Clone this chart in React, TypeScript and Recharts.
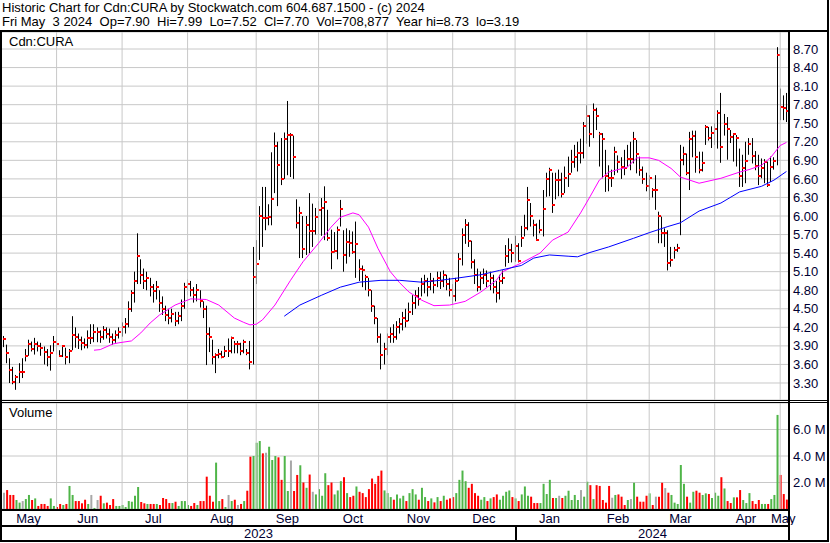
import { ComposedChart, BarChart, Bar, Line, XAxis, YAxis, CartesianGrid, ReferenceLine, Cell } from 'recharts';

const FONT = 'Arial, "Liberation Sans", sans-serif';
const AXIS_TEXT = '#000033';
const GRID = '#c8c8c8';

const TITLE = 'Historic Chart for Cdn:CURA by Stockwatch.com 604.687.1500 - (c) 2024';
const SUBTITLE = 'Fri May  3 2024  Op=7.90  Hi=7.99  Lo=7.52  Cl=7.70  Vol=708,877  Year hi=8.73  lo=3.19';

// trading days per month, May 2023 .. May 2024
const MONTHS = ['May', 'Jun', 'Jul', 'Aug', 'Sep', 'Oct', 'Nov', 'Dec', 'Jan', 'Feb', 'Mar', 'Apr', 'May'];
const MONTH_BARS = [17, 21, 21, 22, 20, 22, 21, 20, 23, 20, 21, 21, 3];
const YEARS = ['2023', '2024'];

const PRICE_TICKS = [3.3, 3.6, 3.9, 4.2, 4.5, 4.8, 5.1, 5.4, 5.7, 6.0, 6.3, 6.6, 6.9, 7.2, 7.5, 7.8, 8.1, 8.4, 8.7];
const VOLUME_TICKS = [2e6, 4e6, 6e6];

const CLOSE = [
  4.01, 3.79, 3.51, 3.31, 3.39, 3.47, 3.47, 3.74, 3.93, 3.85, 3.93, 3.9, 3.86, 3.8, 3.72, 3.78, 3.96,
  3.93, 3.74, 3.9, 3.72, 3.81, 4.07, 4.04, 3.99, 3.95, 3.92, 4.02, 4.02, 4.12, 4.12, 4.05, 4.15, 4.1, 4.05, 4.0, 4.08, 4.12,
  4.2, 4.25, 4.5, 4.75, 4.95, 5.35, 5.05, 4.95, 5.0, 4.85, 4.78, 4.85, 4.6, 4.5, 4.4, 4.35, 4.42, 4.3, 4.38, 4.55, 4.85,
  4.9, 4.8, 4.72, 4.8, 4.62, 4.5, 4.09, 4.04, 3.72, 3.75, 3.77, 3.72, 3.82, 3.82, 4.02, 3.93, 3.93, 3.82, 3.97, 3.79, 3.64, 5.02,
  5.23, 6.0, 5.96, 5.96, 5.99, 6.27, 7.13, 6.83, 6.6, 7.24, 7.31, 7.31, 6.96, 5.89, 6.05, 5.47, 5.86, 5.76, 5.76, 5.99,
  6.1, 6.13, 6.23, 5.65, 5.41, 5.44, 5.78, 6.12, 5.37, 5.58, 5.56, 5.41, 5.55, 5.15, 5.12, 5.02, 4.8, 4.55, 4.35, 4.05, 3.75, 3.85,
  4.05, 4.1, 4.05, 4.2, 4.25, 4.35, 4.3, 4.45, 4.6, 4.7, 4.65, 4.9, 4.95, 4.85, 4.95, 4.88, 5.0, 4.95, 5.05, 4.9, 4.8,
  4.7, 4.95, 5.3, 5.7, 5.85, 5.6, 5.25, 5.05, 4.85, 5.0, 5.05, 4.95, 5.0, 4.85, 4.75, 4.95, 5.0, 5.36, 5.45, 5.4,
  5.52, 5.28, 5.65, 5.81, 6.26, 6.0, 5.86, 5.62, 5.78, 6.12, 6.6, 6.75, 6.18, 6.58, 6.58, 6.35, 6.61, 6.68, 6.88, 6.96, 7.02, 7.02, 7.45,
  7.62, 7.32, 7.71, 7.62, 7.32, 7.24, 6.65, 6.62, 6.62, 7.03, 6.88, 6.8, 6.77, 6.92, 6.92, 7.24, 7.01, 6.74, 6.6, 6.49,
  6.62, 6.42, 6.42, 6.0, 5.73, 5.73, 5.24, 5.29, 5.45, 5.49, 6.9, 7.01, 6.69, 7.24, 7.29, 6.95, 6.74, 6.86, 7.44, 7.26, 7.35,
  7.4, 7.66, 7.12, 7.48, 7.4, 7.28, 7.33, 7.26, 6.65, 6.77, 6.89, 7.17, 6.97, 6.81, 6.64, 6.77, 6.88, 6.5, 6.8, 6.89, 8.6,
  7.76, 7.74, 7.7,
];

const HIGH = [
  4.06, 3.92, 3.7, 3.56, 3.43, 3.62, 3.7, 3.85, 4.0, 3.97, 4.03, 3.97, 3.95, 3.89, 3.85, 3.91, 4.06,
  4.0, 3.83, 3.91, 3.87, 3.85, 4.38, 4.2, 4.1, 4.05, 4.02, 4.15, 4.25, 4.25, 4.2, 4.15, 4.22, 4.2, 4.18, 4.1, 4.15, 4.2,
  4.28, 4.35, 4.62, 4.8, 5.1, 5.72, 5.3, 5.15, 5.1, 5.0, 4.9, 4.95, 4.8, 4.7, 4.55, 4.5, 4.5, 4.45, 4.45, 4.65, 4.92,
  4.98, 4.95, 4.85, 4.9, 4.8, 4.62, 4.55, 4.2, 4.0, 3.78, 3.85, 3.82, 3.9, 4.02, 4.05, 3.98, 3.98, 3.95, 4.0, 3.85, 3.98, 5.5,
  5.61, 6.16, 6.47, 6.47, 6.19, 7.03, 7.35, 7.2, 7.26, 7.35, 7.86, 7.34, 7.3, 6.27, 6.15, 6.0, 6.0, 6.37, 6.2, 6.13,
  6.24, 6.29, 6.48, 6.1, 5.78, 5.74, 5.83, 6.26, 5.77, 5.8, 5.77, 5.75, 5.91, 5.3, 5.2, 5.05, 5.0, 4.8, 4.55, 4.35, 4.1, 3.95,
  4.1, 4.2, 4.25, 4.3, 4.35, 4.45, 4.5, 4.6, 4.72, 4.8, 4.85, 5.0, 5.05, 5.0, 5.08, 5.0, 5.1, 5.1, 5.12, 5.05, 5.0,
  4.9, 5.0, 5.4, 5.8, 5.95, 5.9, 5.6, 5.3, 5.15, 5.1, 5.15, 5.12, 5.1, 5.05, 4.95, 5.05, 5.12, 5.53, 5.64, 5.55,
  5.68, 5.56, 5.84, 6.02, 6.47, 6.21, 5.94, 5.88, 5.94, 6.42, 6.7, 6.78, 6.7, 6.7, 6.75, 6.7, 6.8, 6.96, 7.07, 7.15, 7.2, 7.25, 7.52,
  7.79, 7.63, 7.82, 7.75, 7.36, 7.34, 7.07, 6.82, 6.75, 7.12, 6.98, 6.95, 7.07, 7.15, 7.2, 7.36, 7.23, 6.96, 6.8, 6.7,
  6.66, 6.45, 6.66, 6.07, 5.99, 5.8, 5.77, 5.5, 5.5, 5.55, 7.15, 7.12, 7.01, 7.36, 7.38, 7.38, 7.04, 7.04, 7.47, 7.44, 7.45,
  7.5, 7.71, 7.99, 7.65, 7.6, 7.39, 7.34, 7.31, 7.09, 6.99, 7.2, 7.26, 7.26, 7.05, 6.99, 6.93, 6.92, 6.88, 6.96, 6.95, 8.73,
  8.06, 7.95, 7.99,
];

const LOW = [
  3.88, 3.62, 3.3, 3.28, 3.19, 3.3, 3.38, 3.65, 3.74, 3.81, 3.76, 3.81, 3.74, 3.6, 3.57, 3.5, 3.81,
  3.76, 3.72, 3.72, 3.6, 3.62, 3.83, 3.87, 3.85, 3.83, 3.86, 3.86, 3.93, 3.96, 3.96, 3.95, 4.0, 4.02, 3.95, 3.92, 3.95, 4.02,
  4.05, 4.1, 4.2, 4.45, 4.6, 4.9, 4.9, 4.82, 4.8, 4.7, 4.6, 4.65, 4.45, 4.4, 4.3, 4.25, 4.28, 4.22, 4.25, 4.3, 4.5,
  4.72, 4.7, 4.6, 4.62, 4.52, 4.35, 3.59, 3.8, 3.6, 3.46, 3.7, 3.7, 3.72, 3.72, 3.78, 3.78, 3.78, 3.75, 3.78, 3.75, 3.52, 3.6,
  4.9, 5.29, 5.5, 5.77, 5.85, 5.85, 6.37, 6.16, 6.5, 6.6, 6.66, 6.63, 6.6, 5.8, 5.32, 5.32, 5.37, 5.4, 5.5, 5.7,
  5.7, 5.68, 5.61, 5.6, 5.14, 5.41, 5.3, 5.83, 5.1, 5.23, 5.34, 5.39, 5.0, 4.95, 4.85, 4.8, 4.7, 4.45, 4.25, 3.95, 3.52, 3.6,
  3.75, 3.95, 3.95, 4.0, 4.1, 4.15, 4.2, 4.3, 4.4, 4.5, 4.55, 4.7, 4.75, 4.7, 4.8, 4.75, 4.85, 4.82, 4.85, 4.8, 4.7,
  4.58, 4.62, 4.95, 5.2, 5.55, 5.5, 5.15, 4.9, 4.78, 4.8, 4.9, 4.85, 4.8, 4.75, 4.6, 4.65, 4.9, 5.18, 5.24, 5.25,
  5.26, 5.25, 5.5, 5.67, 5.77, 5.83, 5.67, 5.6, 5.72, 5.67, 6.31, 6.32, 6.05, 6.27, 6.32, 6.3, 6.37, 6.47, 6.7, 6.78, 6.72, 6.85, 6.93,
  7.17, 7.12, 7.26, 7.39, 6.8, 6.61, 6.39, 6.4, 6.47, 6.66, 6.7, 6.6, 6.66, 6.8, 6.74, 6.85, 6.69, 6.65, 6.52, 6.4,
  6.26, 6.3, 6.1, 5.56, 5.56, 5.5, 5.12, 5.18, 5.31, 5.42, 5.69, 6.82, 6.66, 6.42, 6.95, 6.7, 6.69, 6.72, 7.15, 7.22, 7.1,
  7.15, 7.09, 6.86, 7.3, 6.91, 7.18, 6.88, 6.8, 6.47, 6.47, 6.53, 6.99, 6.85, 6.74, 6.5, 6.61, 6.53, 6.47, 6.55, 6.75, 6.82,
  7.55, 7.55, 7.52,
];

// daily volume, millions of shares
const VOLUME_M = [
  1.23, 1.43, 1.06, 1.06, 0.68, 0.48, 0.6, 0.75, 1.06, 0.68, 0.8, 0.23, 0.38, 0.38, 0.23, 0.8, 0.23,
  0.15, 0.38, 0.3, 0.38, 1.74, 1.06, 0.6, 0.6, 0.43, 0.7, 0.38, 1.06, 0.08, 0.68, 1.0, 0.43, 0.48, 0.3, 0.75, 0.23, 0.23,
  0.3, 0.15, 0.6, 0.55, 1.0, 1.66, 0.53, 0.43, 0.38, 0.38, 0.38, 0.38, 0.3, 0.83, 0.75, 0.45, 0.45, 0.55, 0.23, 0.6, 0.6,
  0.3, 0.23, 0.45, 0.3, 0.6, 0.6, 2.44, 1.0, 0.55, 3.5, 0.6, 0.75, 0.15, 1.06, 0.6, 0.7, 0.3, 0.38, 0.6, 1.38, 3.95, 4.0,
  5.0, 5.13, 4.2, 4.24, 4.7, 3.7, 4.0, 3.9, 2.2, 4.0, 1.36, 3.66, 1.36, 2.57, 3.3, 2.0, 1.6, 2.6, 1.3, 1.1,
  1.5, 1.0, 2.7, 1.8, 2.0, 1.1, 1.4, 2.1, 2.4, 1.2, 0.9, 1.0, 1.7, 1.3, 1.2, 0.9, 1.5, 2.3, 1.9, 2.5, 2.9, 1.4,
  1.2, 0.9, 0.7, 1.1, 0.8, 1.0, 0.6, 1.2, 1.5, 1.1, 0.7, 1.6, 0.9, 0.6, 0.8, 0.5, 0.9, 0.6, 1.0, 0.7, 0.8,
  0.9, 1.2, 2.2, 2.9, 2.1, 1.6, 1.9, 1.2, 1.0, 0.7, 0.9, 0.6, 0.8, 0.9, 1.1, 0.7, 1.0, 1.3, 1.4, 0.9,
  0.8, 0.6, 1.1, 1.7, 1.0, 0.93, 0.45, 0.45, 0.45, 1.9, 1.13, 2.2, 0.83, 0.83, 1.0, 0.83, 1.0, 1.38, 0.68, 1.06, 0.68, 1.43, 0.93,
  2.06, 1.8, 0.75, 1.8, 1.74, 0.68, 0.48, 1.74, 0.85, 1.06, 1.1, 0.93, 0.3, 0.68, 0.75, 1.98, 0.93, 0.55, 0.55, 1.0,
  1.18, 0.3, 0.93, 0.93, 1.98, 1.58, 1.23, 1.06, 0.48, 0.38, 3.32, 1.9, 0.93, 0.48, 1.3, 1.38, 1.23, 1.06, 1.18, 1.13, 0.83,
  1.23, 1.0, 2.4, 1.55, 0.6, 0.45, 0.88, 0.88, 1.43, 0.68, 0.45, 1.2, 0.6, 0.38, 0.68, 0.38, 0.38, 0.38, 0.75, 1.06, 7.1,
  2.57, 1.13, 0.71,
];

// moving averages: [bar index, value]
const MA_SHORT: [number, number][] = [
  [29, 3.83], [31, 3.84], [35, 3.93], [37, 3.95], [41, 3.98], [44, 4.11], [47, 4.27], [50, 4.4], [55, 4.56],
  [60, 4.66], [65, 4.65], [69, 4.56], [74, 4.35], [77, 4.28], [79, 4.24], [81, 4.25], [83, 4.32], [87, 4.56],
  [92, 4.96], [96, 5.26], [101, 5.56], [105, 5.82], [108, 5.98], [112, 6.05], [114, 6.02], [117, 5.82],
  [120, 5.48], [124, 5.1], [127, 4.92], [130, 4.77], [134, 4.64], [138, 4.55], [143, 4.56], [148, 4.62],
  [153, 4.77], [158, 4.96], [160, 5.1], [166, 5.24], [172, 5.4], [176, 5.61], [181, 5.74], [185, 6.05],
  [188, 6.31], [191, 6.58], [194, 6.71], [200, 6.79], [203, 6.94], [207, 6.94], [210, 6.9], [214, 6.77],
  [217, 6.63], [220, 6.58], [223, 6.53], [230, 6.61], [236, 6.71], [239, 6.75], [243, 6.82], [246, 6.95],
  [249, 7.14], [251, 7.19],
];
const MA_LONG: [number, number][] = [
  [90, 4.38], [95, 4.56], [102, 4.72], [108, 4.85], [114, 4.93], [121, 4.96], [127, 4.96], [134, 4.93],
  [140, 4.96], [146, 5.0], [153, 5.05], [159, 5.12], [166, 5.2], [170, 5.32], [175, 5.37], [181, 5.35],
  [184, 5.34], [188, 5.41], [194, 5.5], [202, 5.64], [207, 5.73], [213, 5.83], [217, 5.89], [223, 6.08],
  [230, 6.21], [236, 6.39], [243, 6.48], [247, 6.58], [251, 6.72],
];

const shortMap = new Map(MA_SHORT);
const longMap = new Map(MA_LONG);

const DATA = CLOSE.map((close, i) => ({
  key: i,
  range: [LOW[i], HIGH[i]],
  high: HIGH[i],
  low: LOW[i],
  close,
  vol: VOLUME_M[i] * 1e6,
  maShort: shortMap.get(i) ?? null,
  maLong: longMap.get(i) ?? null,
}));

const monthStarts: number[] = [];
const monthMids: number[] = [];
const midLabel = new Map<number, string>();
MONTH_BARS.reduce((start, n, m) => {
  monthStarts.push(start);
  const mid = start + Math.floor(n / 2);
  monthMids.push(mid);
  midLabel.set(mid, MONTHS[m]);
  return start + n;
}, 0);
const gridStarts = monthStarts.slice(1);

function volColor(i: number) {
  if (i === 0 || CLOSE[i] === CLOSE[i - 1]) return '#a8a8a8';
  return CLOSE[i] > CLOSE[i - 1] ? '#4fb548' : '#ff0000';
}

function OhlcBar(props: any) {
  const { x, y, width, height, index } = props;
  const d = props.payload ?? DATA[index];
  if (!d || x == null) return null;
  const lx = Math.floor(x + width / 2);
  const span = d.high - d.low;
  const cy = span > 0 ? y + ((d.high - d.close) / span) * height : y;
  return (
    <g>
      <rect x={lx} y={y} width={1} height={Math.max(height, 1)} fill="#000" />
      <rect x={lx} y={Math.round(cy) - 1} width={3} height={2} fill="#ff0000" />
    </g>
  );
}

const line = (style: React.CSSProperties) => (
  <div style={{ position: 'absolute', background: '#000', ...style }} />
);

export default function App() {
  const tick = { fontSize: 13, fill: AXIS_TEXT, fontFamily: FONT };
  return (
    <div style={{ position: 'absolute', left: 0, top: 0, width: 830, height: 543, background: '#fff', fontFamily: FONT, overflow: 'hidden' }}>
      <div style={{ position: 'absolute', left: 2, top: 1, fontSize: 13, lineHeight: '14px', whiteSpace: 'pre', color: '#000' }}>
        <div>{TITLE}</div>
        <div>{SUBTITLE}</div>
      </div>

      <div style={{ position: 'absolute', left: 2, top: 32 }}>
        <ComposedChart width={826} height={368} data={DATA} margin={{ top: 0, right: 0, bottom: 0, left: 0 }} barCategoryGap={0} barGap={0}>
          <CartesianGrid vertical={false} stroke={GRID} />
          <XAxis dataKey="key" type="category" hide />
          <YAxis
            orientation="right"
            type="number"
            domain={[3.025, 8.975]}
            allowDataOverflow
            ticks={PRICE_TICKS}
            interval={0}
            width={40}
            axisLine={false}
            tickLine={false}
            tickSize={0}
            tickMargin={5}
            tick={tick}
            tickFormatter={(v: number) => v.toFixed(2)}
          />
          {gridStarts.map((k) => (
            <ReferenceLine key={k} x={k} stroke={GRID} />
          ))}
          <Bar dataKey="range" shape={OhlcBar} isAnimationActive={false} />
          <Line dataKey="maShort" stroke="#ff00ff" strokeWidth={1} dot={false} connectNulls isAnimationActive={false} />
          <Line dataKey="maLong" stroke="#0000ff" strokeWidth={1} dot={false} connectNulls isAnimationActive={false} />
        </ComposedChart>
      </div>

      <div style={{ position: 'absolute', left: 2, top: 403 }}>
        <BarChart width={826} height={122} data={DATA} margin={{ top: 0, right: 0, bottom: 0, left: 0 }} barCategoryGap={0}>
          <CartesianGrid vertical={false} stroke={GRID} />
          <XAxis
            dataKey="key"
            type="category"
            ticks={monthMids}
            interval={0}
            height={16}
            axisLine={false}
            tickLine={false}
            tickSize={0}
            tickMargin={5}
            tick={tick}
            tickFormatter={(k: number) => midLabel.get(k) ?? ''}
          />
          <YAxis
            orientation="right"
            type="number"
            domain={[0, 8e6]}
            allowDataOverflow
            ticks={VOLUME_TICKS}
            interval={0}
            width={40}
            axisLine={false}
            tickLine={false}
            tickSize={0}
            tickMargin={5}
            tick={tick}
            tickFormatter={(v: number) => (v / 1e6).toFixed(1) + ' M'}
          />
          {gridStarts.map((k) => (
            <ReferenceLine key={k} x={k} stroke={GRID} />
          ))}
          <Bar dataKey="vol" barSize={2} isAnimationActive={false}>
            {DATA.map((d, i) => (
              <Cell key={`v-${i}`} fill={volColor(i)} />
            ))}
          </Bar>
        </BarChart>
      </div>

      <div style={{ position: 'absolute', left: 9, top: 35, fontSize: 13, lineHeight: '14px', color: '#000' }}>Cdn:CURA</div>
      <div style={{ position: 'absolute', left: 9, top: 406, fontSize: 13, lineHeight: '14px', color: '#000' }}>Volume</div>

      <div style={{ position: 'absolute', left: 2, top: 527, width: 513, textAlign: 'center', fontSize: 13, lineHeight: '14px', color: AXIS_TEXT }}>{YEARS[0]}</div>
      <div style={{ position: 'absolute', left: 517, top: 527, width: 271, textAlign: 'center', fontSize: 13, lineHeight: '14px', color: AXIS_TEXT }}>{YEARS[1]}</div>

      {line({ left: 0, top: 30, width: 829, height: 2 })}
      {line({ left: 827, top: 0, width: 2, height: 542 })}
      {line({ left: 0, top: 30, width: 2, height: 512 })}
      {line({ left: 788, top: 30, width: 2, height: 512 })}
      {line({ left: 0, top: 400, width: 829, height: 1 })}
      {line({ left: 0, top: 402, width: 829, height: 1 })}
      {line({ left: 0, top: 509, width: 789, height: 2 })}
      {line({ left: 0, top: 525, width: 789, height: 2 })}
      {line({ left: 0, top: 540, width: 829, height: 2 })}
      {line({ left: 515, top: 525, width: 2, height: 16 })}
    </div>
  );
}
